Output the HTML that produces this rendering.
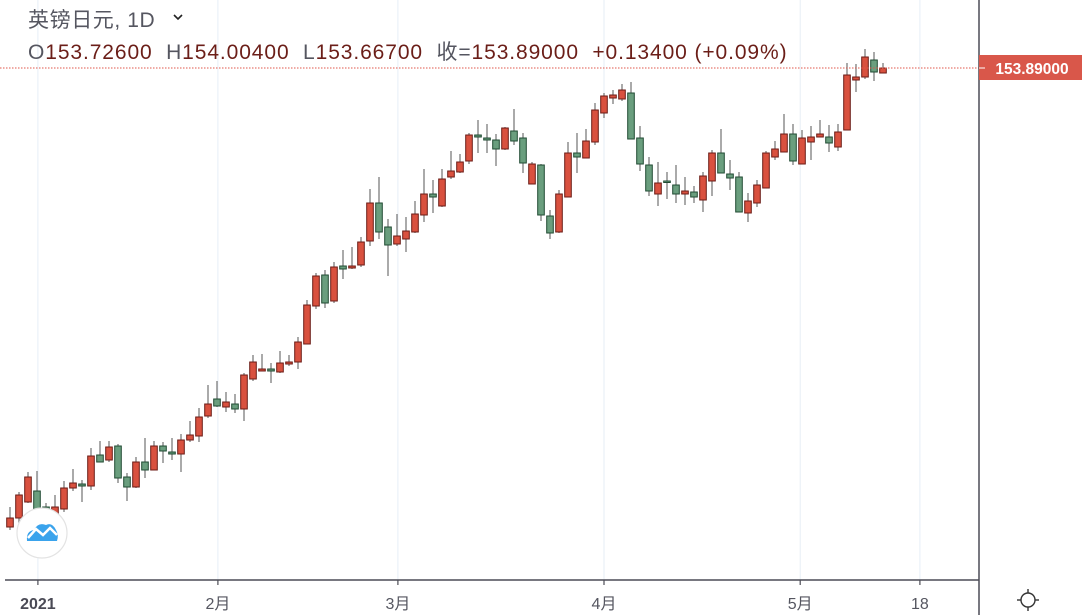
<!DOCTYPE html>
<html><head><meta charset="utf-8">
<style>
html,body{margin:0;padding:0;background:#fff;width:1089px;height:615px;overflow:hidden}
svg{display:block;font-family:"Liberation Sans","Noto Sans CJK SC",sans-serif}
</style></head>
<body>
<svg id="chart" width="1089" height="615" viewBox="0 0 1089 615" xmlns="http://www.w3.org/2000/svg">
  <g id="grid"></g>
  <g id="candles"></g>
  <line x1="0" x2="979" y1="68" y2="68" stroke="#e0574b" stroke-width="1" stroke-dasharray="1.5,1.5"/>
  <line x1="5" x2="979" y1="580" y2="580" stroke="#4c4c56" stroke-width="1.5"/>
  <line x1="979" x2="979" y1="0" y2="615" stroke="#4c4c56" stroke-width="1.5"/>
  <g id="xlabels"></g>
  <g>
    <rect x="979" y="55" width="103" height="25" fill="#d9574a"/>
    <line x1="979" x2="985" y1="68" y2="68" stroke="#fff" stroke-width="1"/>
    <text x="1032" y="74" text-anchor="middle" font-size="15.5" font-weight="bold" fill="#fff">153.89000</text>
  </g>
  <text x="28" y="27" font-size="21" letter-spacing="0.6" fill="#555660">英镑日元, 1D</text>
  <path d="M174 15 L178 19 L182 15" fill="none" stroke="#222" stroke-width="1.6"/>
  <text x="28" y="59" font-size="21" letter-spacing="0.9" fill="#6b1e18" xml:space="preserve"><tspan fill="#555660">O</tspan>153.72600  <tspan fill="#555660">H</tspan>154.00400  <tspan fill="#555660">L</tspan>153.66700  <tspan fill="#555660">收=</tspan>153.89000  +0.13400 (+0.09%)</text>
  <g>
    <circle cx="42" cy="533" r="25" fill="#fff" stroke="#e3e3e3" stroke-width="1.2"/>
    <path d="M27 541 Q26 531 34 530 Q38 522 46 525 Q52 522 56 530 Q59 535 57 541 Z" fill="#3aa3ec"/>
    <path d="M28 538 L36 529 L43 535 L50 528 L57 535" fill="none" stroke="#fff" stroke-width="2.5"/>
  </g>
  <g transform="translate(1028,600)" stroke="#333" stroke-width="1.4" fill="none">
    <circle r="7"/>
    <line x1="0" y1="-11" x2="0" y2="-7"/><line x1="0" y1="7" x2="0" y2="11"/>
    <line x1="-11" y1="0" x2="-7" y2="0"/><line x1="7" y1="0" x2="11" y2="0"/>
  </g>
</svg>
<script>
const opens  = [144.71,144.89,145.21,145.43,145.11,144.91,145.07,145.49,145.57,145.53,146.15,146.05,146.33,145.71,145.51,146.01,145.85,146.33,146.21,146.17,146.45,146.53,146.93,147.27,147.11,147.17,147.07,147.67,147.83,147.87,147.81,147.97,148.01,148.37,149.13,149.75,149.23,149.93,149.89,149.95,150.43,151.19,150.71,150.37,150.47,150.61,150.95,151.37,151.13,151.71,151.81,152.03,152.55,152.49,152.45,152.27,152.63,152.49,151.57,151.95,150.93,150.61,151.31,152.19,152.09,152.41,152.99,153.29,153.27,153.39,152.49,151.95,151.37,151.63,151.55,151.37,151.41,151.25,151.63,152.19,151.77,151.71,150.99,151.19,151.49,152.11,152.21,152.57,151.97,152.41,152.51,152.51,152.31,152.65,153.65,153.71,154.05,153.79];
const highs  = [145.11,145.41,145.81,145.83,145.19,145.35,145.63,145.87,145.65,146.29,146.43,146.43,146.37,145.79,146.11,146.49,146.43,146.41,146.49,146.57,146.83,147.09,147.55,147.63,147.41,147.37,147.79,148.15,148.17,147.99,148.23,148.15,148.51,149.25,149.79,149.85,150.01,150.25,150.31,150.51,151.47,151.71,150.87,150.97,150.91,151.23,151.87,151.65,151.87,152.23,152.17,152.59,152.85,152.77,152.57,152.71,153.07,152.59,152.01,151.97,151.05,151.45,152.41,152.59,152.67,153.19,153.39,153.45,153.57,153.61,152.73,152.11,152.01,151.81,151.95,151.71,151.53,151.81,152.25,152.67,152.05,151.81,151.39,151.65,152.23,152.43,152.97,152.77,152.65,152.73,152.85,152.75,152.77,153.99,153.97,154.27,154.21,153.99];
const lows   = [144.65,144.79,145.19,144.89,144.95,144.85,145.01,145.43,145.21,145.45,146.01,146.01,145.59,145.23,145.49,145.69,145.85,145.99,146.05,145.81,146.41,146.41,146.89,147.11,147.01,146.99,146.83,147.63,147.83,147.59,147.79,147.93,147.87,148.37,149.07,149.09,149.19,149.67,149.87,149.91,150.33,150.47,149.73,150.33,150.21,150.59,150.81,150.99,151.11,151.67,151.79,151.97,152.19,152.19,151.93,152.25,152.35,151.79,151.57,150.83,150.47,150.59,151.31,151.79,152.09,152.35,152.89,153.17,153.23,152.47,151.83,151.33,151.13,151.27,151.19,151.15,151.19,151.01,151.33,151.79,151.45,151.01,150.81,151.11,151.49,152.05,152.21,151.95,151.97,152.05,152.51,152.21,152.23,152.65,153.41,153.67,153.63,153.79];
const closes = [144.89,145.35,145.71,145.05,145.05,145.11,145.49,145.59,145.53,146.13,146.01,146.31,145.69,145.51,146.01,145.85,146.33,146.23,146.17,146.45,146.55,146.91,147.17,147.13,147.21,147.07,147.75,148.01,147.87,147.83,147.99,148.01,148.41,149.15,149.73,149.19,149.91,149.87,149.93,150.41,151.19,150.61,150.35,150.53,150.63,150.97,151.37,151.31,151.67,151.83,152.01,152.55,152.51,152.45,152.27,152.69,152.43,151.99,151.97,150.95,150.59,151.37,152.19,152.11,152.43,153.05,153.33,153.35,153.45,152.47,151.97,151.43,151.59,151.61,151.37,151.43,151.31,151.73,152.19,151.79,151.69,151.01,151.23,151.55,152.19,152.27,152.57,152.03,152.49,152.51,152.57,152.39,152.61,153.75,153.71,154.11,153.81,153.89];
const tickLabels = ["2021","2月","3月","4月","5月","18"];
const tickIndex  = [3.1,23.1,43.1,66,87.8,101.1];
const tickBold   = [true,false,false,false,false,false];

const NS="http://www.w3.org/2000/svg";
function xScale(i){return 10+i*9;}
function yScale(p){return 68+(153.89-p)*50;}
function mk(tag,attrs,parent){const e=document.createElementNS(NS,tag);for(const k in attrs)e.setAttribute(k,attrs[k]);parent.appendChild(e);return e;}

const grid=document.getElementById('grid');
const xl=document.getElementById('xlabels');
tickLabels.forEach((t,k)=>{
  const x=xScale(tickIndex[k]);
  const g=mk('line',{x1:x,x2:x,y1:0,y2:580,stroke:'#e6eef6','stroke-width':1},grid);
  
  
  const tk=mk('line',{x1:x,x2:x,y1:580,y2:585,stroke:'#4c4c56','stroke-width':1.2},xl);
  
  
  const tx=mk('text',{x:x,y:609,'text-anchor':'middle','font-size':16,fill:tickBold[k]?'#4a4a55':'#555660','font-weight':tickBold[k]?'bold':'normal'},xl);
  tx.textContent=t;
  
  
});

const cg=document.getElementById('candles');
for(let i=0;i<opens.length;i++){
  const o=opens[i],h=highs[i],l=lows[i],c=closes[i];
  const up=c>=o;
  const x=xScale(i);
  const g=mk('g',{},cg);
  
  
  mk('line',{x1:x,x2:x,y1:yScale(h),y2:yScale(l),stroke:'#7d7d7d','stroke-width':1.3},g);
  const top=yScale(Math.max(o,c)),bot=yScale(Math.min(o,c));
  const hgt=Math.max(bot-top,1.5);
  mk('rect',{x:x-3.3,y:top,width:6.6,height:hgt,fill:up?'#d9513f':'#6a9e7e',stroke:up?'#6b1a14':'#1f4a32','stroke-width':1},g);
}
</script>
</body></html>
